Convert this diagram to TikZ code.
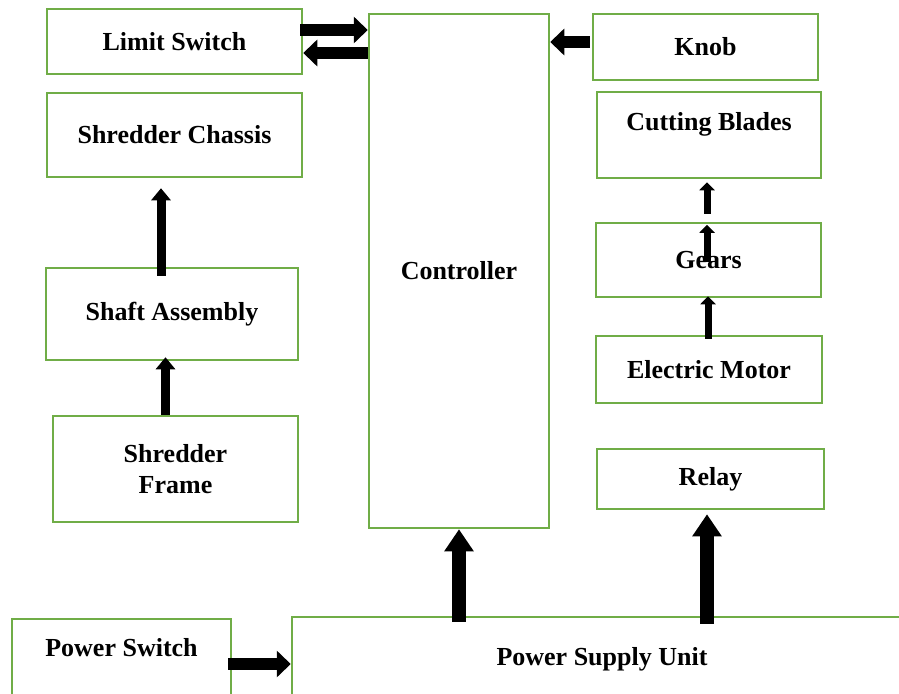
\documentclass[tikz,border=0pt]{standalone}
\usepackage{fontspec}
\setmainfont{Liberation Serif}
\usetikzlibrary{calc,positioning,arrows.meta}
\definecolor{BoxGreen}{HTML}{70AD47}

\tikzset{
  block/.style={
    draw=BoxGreen,
    line width=2.5pt,
    fill=white,
    inner sep=4pt,
    align=center,
    font=\fontsize{26}{31}\selectfont\bfseries
  },
  fatarrow/.style={
    line width=12pt,
    -{Triangle[length=14pt,width=26pt]}
  },
  bigarrow/.style={
    line width=14pt,
    -{Triangle[length=22pt,width=28pt]}
  },
  midarrow/.style={
    line width=9pt,
    -{Triangle[length=12pt,width=19pt]}
  },
  thinarrow/.style={
    line width=7pt,
    -{Triangle[length=8pt,width=15pt]}
  }
}

\begin{document}
\begin{tikzpicture}[x=1pt,y=-1pt]
  \clip (0,0) rectangle (899,693);
  \fill[white] (0,0) rectangle (899,693);

  % left column
  \node[block, minimum width=255pt, minimum height=65pt] (limit) at (174.5,41.5) {Limit Switch};
  \node[block, minimum width=255pt, minimum height=84pt] (chassis) at (174.5,135) {Shredder Chassis};
  \node[block, minimum width=252pt, minimum height=92pt] (shaft) at (172,314) {Shaft Assembly};
  \node[block, minimum width=245pt, minimum height=106pt] (frame) at (175.5,469) {Shredder\\Frame};

  % controller
  \node[block, minimum width=180pt, minimum height=514pt] (ctrl) at (459,271) {Controller};

  % right column
  \node[block, minimum width=225pt, minimum height=66pt] (knob) at (705.5,47) {Knob};
  \node[block, minimum width=224pt, minimum height=86pt, text depth=28pt] (blades) at (709,135) {Cutting Blades};
  \node[block, minimum width=225pt, minimum height=74pt] (gears) at (708.5,260) {Gears};
  \node[block, minimum width=226pt, minimum height=67pt] (motor) at (709,369.5) {Electric Motor};
  \node[block, minimum width=227pt, minimum height=60pt] (relay) at (710.5,479) {Relay};

  % bottom row
  \node[block, minimum width=219pt, minimum height=90pt, text depth=34pt] (pswitch) at (121.5,664) {Power Switch};
  \node[block, minimum width=620pt, minimum height=84pt] (psu) at (602,659) {Power Supply Unit};

  % connectors
  \draw[fatarrow] ([xshift=-3pt,yshift=11.5pt]limit.east) -- ([yshift=11.5pt]limit.east -| ctrl.west);
  \draw[fatarrow] ([yshift=-11.5pt]limit.east -| ctrl.west) -- ([yshift=-11.5pt]limit.east);
  \draw[fatarrow] ([xshift=-2pt,yshift=5pt]knob.west) -- ([yshift=5pt]knob.west -| ctrl.east);

  \draw[midarrow, shorten <=-9pt, shorten >=10pt] ([xshift=-11pt]shaft.north) -- ([xshift=-11pt]shaft.north |- chassis.south);
  \draw[midarrow, shorten >=-4pt] ([xshift=-10pt]frame.north) -- ([xshift=-10pt]frame.north |- shaft.south);

  \draw[thinarrow, shorten <=8pt, shorten >=3pt] ([xshift=-1.5pt]gears.north) -- ([xshift=-1.5pt]gears.north |- blades.south);
  \draw[thinarrow, shorten >=3pt] ([xshift=-1.5pt,yshift=-2pt]gears.center) -- ([xshift=-1.5pt]gears.north);
  \draw[thinarrow, shorten <=-4pt, shorten >=-2pt] ([xshift=-1pt]motor.north) -- ([xshift=-1pt]motor.north |- gears.south);

  \draw[bigarrow, shorten <=-6pt] (ctrl.south |- psu.north) -- (ctrl.south);
  \draw[bigarrow, shorten <=-8pt, shorten >=4pt] ([xshift=-3.5pt]relay.south |- psu.north) -- ([xshift=-3.5pt]relay.south);
  \draw[fatarrow, shorten <=-4pt] (pswitch.east) -- (pswitch.east -| psu.west);
\end{tikzpicture}
\end{document}
